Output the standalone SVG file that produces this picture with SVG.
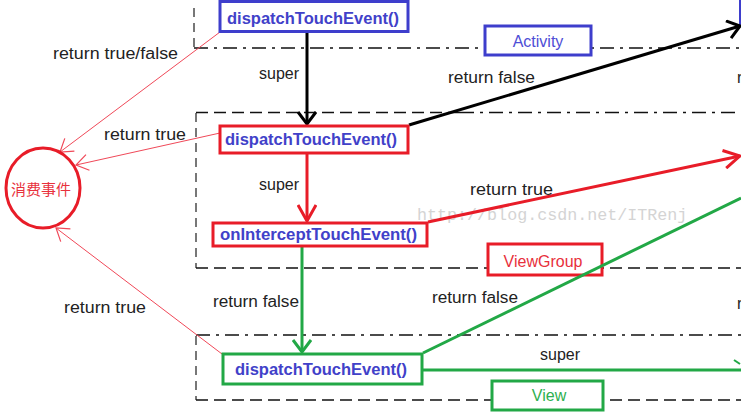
<svg xmlns="http://www.w3.org/2000/svg" width="741" height="417" viewBox="0 0 741 417">
<style>
.bg{fill:#fff}
.vd{stroke:#777;stroke-width:2;stroke-dasharray:9,6;fill:none}
.hd{stroke:#111;stroke-width:1.5;stroke-dasharray:12,6;fill:none}
.hdd{stroke:#111;stroke-width:1.5;stroke-dasharray:14,6,3,6;fill:none}
.nb{fill:#fff;stroke-width:3}
.fn{font-family:"Liberation Sans",Arial,sans-serif;font-weight:bold;font-size:16px;fill:#4141c9}
.lb{font-family:"Liberation Sans",Arial,sans-serif;font-size:16px;fill:#222}
.tag{font-family:"Liberation Sans",Arial,sans-serif;font-size:16px}
.blue{stroke:#3e3ecc}
.red{stroke:#e81c28}
.green{stroke:#22a846}
.thin{stroke:#f04858;stroke-width:1;fill:none}
</style>
<defs>
<marker id="ab" viewBox="0 0 14 20" refX="13" refY="10" markerWidth="14" markerHeight="20" markerUnits="userSpaceOnUse" orient="auto"><path d="M1,1 L13,10 L1,19" fill="none" stroke="#000" stroke-width="3"/></marker>
<marker id="ar" viewBox="0 0 18 20" refX="17" refY="10" markerWidth="18" markerHeight="20" markerUnits="userSpaceOnUse" orient="auto"><path d="M1,1 L17,10 L1,19" fill="none" stroke="#e81c28" stroke-width="3"/></marker>
<marker id="ag" viewBox="0 0 14 20" refX="13" refY="10" markerWidth="14" markerHeight="20" markerUnits="userSpaceOnUse" orient="auto"><path d="M1,1 L13,10 L1,19" fill="none" stroke="#22a846" stroke-width="3"/></marker>
<marker id="at" viewBox="0 0 14 18" refX="13" refY="9" markerWidth="14" markerHeight="18" markerUnits="userSpaceOnUse" orient="auto"><path d="M1,1 L13,9 L1,17" fill="none" stroke="#f04858" stroke-width="1.2"/></marker>
</defs>
<rect class="bg" x="0" y="0" width="741" height="417"/>

<g id="regions">
<path class="vd" d="M194,8 V48"/>
<path class="hdd" d="M194,48 H741"/>
<path class="vd" d="M196,113 V268"/>
<path class="hd" d="M196,112.5 H460"/>
<path class="hdd" d="M460,112.5 H741"/>
<path class="hd" d="M196,268 H741"/>
<path class="vd" d="M196,336 V400"/>
<path class="hdd" d="M196,335 H741"/>
<path class="hd" d="M196,400 H741"/>
<line x1="740" y1="0" x2="740" y2="25" stroke="#3e3ecc" stroke-width="2"/>
</g>

<g id="tag-activity"><rect class="nb blue" x="485" y="26" width="106" height="29"/><text class="tag" x="538" y="47" text-anchor="middle" fill="#4e4ed6">Activity</text></g>
<g id="tag-viewgroup"><rect class="nb red" x="488" y="244" width="114" height="31"/><text class="tag" x="543" y="267" text-anchor="middle" fill="#e8303c">ViewGroup</text></g>
<g id="tag-view"><rect class="nb green" x="492" y="381" width="111" height="29"/><text class="tag" x="549" y="401" text-anchor="middle" fill="#2db04f">View</text></g>

<text x="417" y="220" font-family="Liberation Mono,monospace" font-size="16.7" fill="#d4d4d4">http://blog.csdn.net/ITRenj</text>

<g id="connectors">
<path d="M307,33 V124" stroke="#000" stroke-width="3" fill="none" marker-end="url(#ab)"/>
<path d="M409,125 L740,26" stroke="#000" stroke-width="3" fill="none" marker-end="url(#ab)"/>
<path d="M307,154 V221" stroke="#e81c28" stroke-width="3" fill="none" marker-end="url(#ar)"/>
<path d="M428,222 L740,156" stroke="#e81c28" stroke-width="3" fill="none" marker-end="url(#ar)"/>
<path d="M302,247 V352" stroke="#22a846" stroke-width="3" fill="none" marker-end="url(#ag)"/>
<path d="M423,353 L741,198" stroke="#22a846" stroke-width="3" fill="none"/>
<path d="M423,370 H741" stroke="#22a846" stroke-width="3" fill="none"/>
<path d="M734,360 L740,364" stroke="#22a846" stroke-width="2" fill="none"/>
<path class="thin" d="M220,32 L60,152" marker-end="url(#at)"/>
<path class="thin" d="M220,133 L76,165" marker-end="url(#at)"/>
<path class="thin" d="M222,354 L56,228" marker-end="url(#at)"/>
</g>

<g id="activity-dispatch"><rect class="nb blue" x="220" y="1.5" width="188" height="30"/><text class="fn" x="227" y="24" textLength="172" lengthAdjust="spacingAndGlyphs">dispatchTouchEvent()</text></g>
<g id="viewgroup-dispatch"><rect class="nb red" x="220" y="126" width="188" height="27"/><text class="fn" x="225" y="145" textLength="172" lengthAdjust="spacingAndGlyphs">dispatchTouchEvent()</text></g>
<g id="viewgroup-intercept"><rect class="nb red" x="213" y="223" width="214" height="23"/><text class="fn" x="220" y="240" textLength="197" lengthAdjust="spacingAndGlyphs">onInterceptTouchEvent()</text></g>
<g id="view-dispatch"><rect class="nb green" x="223" y="354" width="199" height="30"/><text class="fn" x="235" y="375" textLength="172" lengthAdjust="spacingAndGlyphs">dispatchTouchEvent()</text></g>
<g id="consume"><ellipse cx="43" cy="188" rx="37" ry="40" fill="#fff" stroke="#e81c28" stroke-width="3"/><text x="41" y="195" text-anchor="middle" font-family="'Noto Sans CJK SC',sans-serif" font-size="15" fill="#e8303c">消费事件</text></g>

<g id="labels">
<text class="lb" x="53" y="59" textLength="125" lengthAdjust="spacingAndGlyphs">return true/false</text>
<text class="lb" x="104" y="140" textLength="82" lengthAdjust="spacingAndGlyphs">return true</text>
<text class="lb" x="64" y="313" textLength="82" lengthAdjust="spacingAndGlyphs">return true</text>
<text class="lb" x="259" y="79">super</text>
<text class="lb" x="259" y="190">super</text>
<text class="lb" x="448" y="83" textLength="87" lengthAdjust="spacingAndGlyphs">return false</text>
<text class="lb" x="470" y="195" textLength="83" lengthAdjust="spacingAndGlyphs">return true</text>
<text class="lb" x="213" y="307" textLength="86" lengthAdjust="spacingAndGlyphs">return false</text>
<text class="lb" x="432" y="303" textLength="86" lengthAdjust="spacingAndGlyphs">return false</text>
<text class="lb" x="540" y="360">super</text>
<text class="lb" x="737" y="83">r</text>
<text class="lb" x="737" y="309">r</text>
</g>
</svg>
